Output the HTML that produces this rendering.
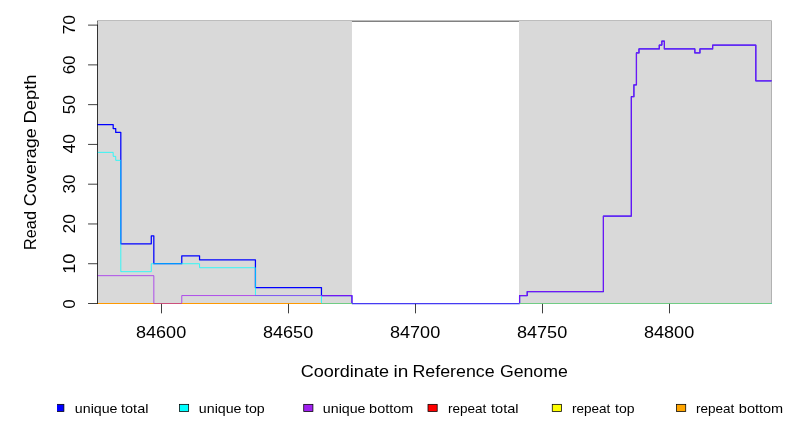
<!DOCTYPE html>
<html><head><meta charset="utf-8"><title>Read Coverage Depth</title>
<style>
html,body{margin:0;padding:0;background:#fff;}
body{width:792px;height:432px;overflow:hidden;font-family:"Liberation Sans",sans-serif;}
svg{display:block;}
</style></head><body>
<svg width="792" height="432" viewBox="0 0 792 432">
<defs><clipPath id="lc"><rect x="57" y="400" width="735" height="20"/></clipPath><filter id="g" x="0" y="0" width="792" height="432" filterUnits="userSpaceOnUse" color-interpolation-filters="sRGB"><feOffset dx="0" dy="0"/></filter><clipPath id="c"><rect x="97.1" y="20.5" width="674.5" height="284.0"/></clipPath></defs>
<rect width="792" height="432" fill="#fff"/>
<rect x="97.5" y="21.12" width="674.0" height="282.38" fill="none" stroke="#000" stroke-width="0.75"/>
<rect x="97.6" y="21.0" width="254.35" height="282.5" fill="#d9d9d9"/>
<rect x="519.0" y="21.0" width="252.75" height="282.5" fill="#d9d9d9"/>
<g fill="none" stroke-linejoin="round" stroke-linecap="round" clip-path="url(#c)">
<path d="M97.44,124.53 H113.19 V128.51 H115.73 V132.49 H120.81 V243.84 H151.29 V235.89 H153.83 V263.73 H181.77 V255.78 H199.55 V259.75 H255.43 V287.59 H321.47 V295.55 H351.95 V303.5 H519.59 V295.55 H527.21 V291.57 H603.41 V216.01 H631.35 V96.7 H633.89 V84.77 H636.43 V52.95 H638.97 V48.97 H659.29 V45.0 H661.83 V41.02 H664.37 V48.97 H694.85 V52.95 H699.93 V48.97 H712.63 V45.0 H755.81 V80.79 H771.56" stroke="#0000ff" stroke-width="1.25"/>
<path d="M97.44,152.37 H113.19 V156.35 H115.73 V160.33 H120.81 V271.68 H151.29 V263.73 H199.55 V267.71 H255.43 V295.55 H321.47 V303.5 H771.56" stroke="#00ffff" stroke-width="0.75"/>
<path d="M97.44,275.66 H153.83 V303.5 H181.77 V295.55 H351.95 V303.5 H351.95 M519.59,303.5 H519.59 V295.55 H527.21 V291.57 H603.41 V216.01 H631.35 V96.7 H633.89 V84.77 H636.43 V52.95 H638.97 V48.97 H659.29 V45.0 H661.83 V41.02 H664.37 V48.97 H694.85 V52.95 H699.93 V48.97 H712.63 V45.0 H755.81 V80.79 H771.56" stroke="#a020f0" stroke-width="0.75"/>
<path d="M351.95,303.5 H519.59" stroke="#463cf2" stroke-width="1.25" stroke-linecap="butt"/>
<path d="M97.44,303.5 H153.83" stroke="#ff9900" stroke-width="1" stroke-linecap="butt"/>
<path d="M153.83,303.5 H181.77" stroke="#cc507c" stroke-width="1" stroke-linecap="butt"/>
<path d="M181.77,303.5 H321.47" stroke="#ff9900" stroke-width="1" stroke-linecap="butt"/>
<path d="M321.47,303.5 H351.95" stroke="#70cc84" stroke-width="1" stroke-linecap="butt"/>
<path d="M519.59,303.5 H771.56" stroke="#70cc84" stroke-width="1" stroke-linecap="butt"/>
</g>
<g stroke="#000" stroke-width="0.75" fill="none" stroke-linecap="butt">
<path d="M97.5,303.875 V24.735" stroke-opacity="0.78"/>
<path d="M97.5,303.5 h-9.45"/>
<path d="M97.5,263.73 h-9.45"/>
<path d="M97.5,223.96 h-9.45"/>
<path d="M97.5,184.19 h-9.45"/>
<path d="M97.5,144.42 h-9.45"/>
<path d="M97.5,104.65 h-9.45"/>
<path d="M97.5,64.88 h-9.45"/>
<path d="M97.5,25.11 h-9.45"/>
<path d="M161.5,303.9 V313.35"/>
<path d="M288.5,303.9 V313.35"/>
<path d="M415.5,303.9 V313.35"/>
<path d="M542.5,303.9 V313.35"/>
<path d="M669.5,303.9 V313.35"/>
</g>
<g font-family="Liberation Sans, sans-serif" font-size="17.0" fill="#000" filter="url(#g)">
<text x="135.96" y="337.85" textLength="50.24" lengthAdjust="spacingAndGlyphs">84600</text>
<text x="262.96" y="337.85" textLength="50.24" lengthAdjust="spacingAndGlyphs">84650</text>
<text x="389.96" y="337.85" textLength="50.24" lengthAdjust="spacingAndGlyphs">84700</text>
<text x="516.96" y="337.85" textLength="50.24" lengthAdjust="spacingAndGlyphs">84750</text>
<text x="643.96" y="337.85" textLength="50.24" lengthAdjust="spacingAndGlyphs">84800</text>
<text transform="translate(75.2,33.7) rotate(-90)" x="-0.9" y="0" textLength="19.59" lengthAdjust="spacingAndGlyphs">70</text>
<text transform="translate(75.2,73.5) rotate(-90)" x="-0.86" y="0" textLength="18.82" lengthAdjust="spacingAndGlyphs">60</text>
<text transform="translate(75.2,113.65) rotate(-90)" x="-0.69" y="0" textLength="19.22" lengthAdjust="spacingAndGlyphs">50</text>
<text transform="translate(75.2,153.05) rotate(-90)" x="-0.4" y="0" textLength="19.33" lengthAdjust="spacingAndGlyphs">40</text>
<text transform="translate(75.2,192.8) rotate(-90)" x="-0.65" y="0" textLength="19.05" lengthAdjust="spacingAndGlyphs">30</text>
<text transform="translate(75.2,232.7) rotate(-90)" x="-0.88" y="0" textLength="19.46" lengthAdjust="spacingAndGlyphs">20</text>
<text transform="translate(75.2,272.5) rotate(-90)" x="-1.38" y="0" textLength="20.19" lengthAdjust="spacingAndGlyphs">10</text>
<text transform="translate(75.2,308.05) rotate(-90)" x="-0.67" y="0" textLength="9.48" lengthAdjust="spacingAndGlyphs">0</text>
<text x="300.68" y="376.6" textLength="88.32" lengthAdjust="spacingAndGlyphs">Coordinate</text>
<text x="393.53" y="376.6" textLength="14.81" lengthAdjust="spacingAndGlyphs">in</text>
<text x="412.44" y="376.6" textLength="82.15" lengthAdjust="spacingAndGlyphs">Reference</text>
<text x="499.91" y="376.6" textLength="67.88" lengthAdjust="spacingAndGlyphs">Genome</text>
<text transform="translate(36.0,248.7) rotate(-90)" x="-1.34" y="0" textLength="38.99" lengthAdjust="spacingAndGlyphs">Read</text>
<text transform="translate(36.0,205.4) rotate(-90)" x="-0.91" y="0" textLength="78.12" lengthAdjust="spacingAndGlyphs">Coverage</text>
<text transform="translate(36.0,122.0) rotate(-90)" x="-1.51" y="0" textLength="49.0" lengthAdjust="spacingAndGlyphs">Depth</text>
</g>
<g font-family="Liberation Sans, sans-serif" font-size="12.6" fill="#000" filter="url(#g)">
<text x="74.84" y="412.6" textLength="42.71" lengthAdjust="spacingAndGlyphs">unique</text>
<text x="121.04" y="412.6" textLength="27.39" lengthAdjust="spacingAndGlyphs">total</text>
<text x="198.84" y="412.6" textLength="42.71" lengthAdjust="spacingAndGlyphs">unique</text>
<text x="245.05" y="412.6" textLength="19.71" lengthAdjust="spacingAndGlyphs">top</text>
<text x="322.84" y="412.6" textLength="42.71" lengthAdjust="spacingAndGlyphs">unique</text>
<text x="369.13" y="412.6" textLength="44.13" lengthAdjust="spacingAndGlyphs">bottom</text>
<text x="447.97" y="412.6" textLength="38.4" lengthAdjust="spacingAndGlyphs">repeat</text>
<text x="491.0" y="412.6" textLength="27.55" lengthAdjust="spacingAndGlyphs">total</text>
<text x="571.97" y="412.6" textLength="38.4" lengthAdjust="spacingAndGlyphs">repeat</text>
<text x="615.01" y="412.6" textLength="19.5" lengthAdjust="spacingAndGlyphs">top</text>
<text x="695.97" y="412.6" textLength="38.4" lengthAdjust="spacingAndGlyphs">repeat</text>
<text x="738.83" y="412.6" textLength="44.39" lengthAdjust="spacingAndGlyphs">bottom</text>
</g>
<g stroke="#000" stroke-width="0.75" clip-path="url(#lc)">
<rect x="54.9" y="404.35" width="9.0" height="7.15" fill="#0000ff"/>
<rect x="179.45" y="404.35" width="9.2" height="7.15" fill="#00ffff"/>
<rect x="303.72" y="404.35" width="9.2" height="7.15" fill="#a020f0"/>
<rect x="427.99" y="404.35" width="9.2" height="7.15" fill="#ff0000"/>
<rect x="552.26" y="404.35" width="9.2" height="7.15" fill="#ffff00"/>
<rect x="676.53" y="404.35" width="9.2" height="7.15" fill="#ffa500"/>
</g>
</svg>
</body></html>
